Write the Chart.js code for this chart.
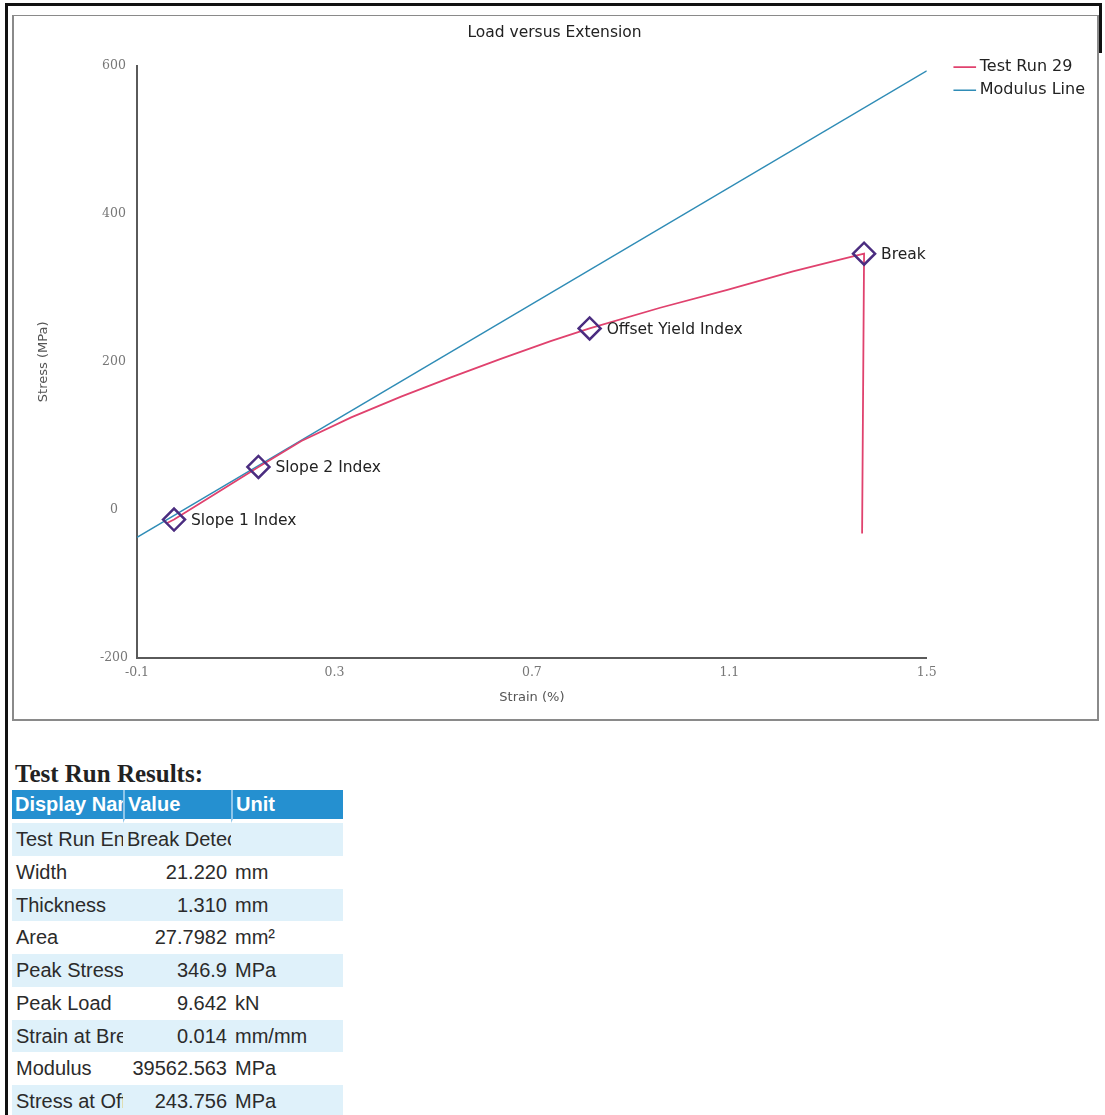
<!DOCTYPE html>
<html>
<head>
<meta charset="utf-8">
<script src="https://cdn.jsdelivr.net/npm/chart.js@4.4.1/dist/chart.umd.min.js"></script>
<style>
  html, body { margin: 0; padding: 0; background: #fff; }
  body { width: 1105px; height: 1115px; position: relative; overflow: hidden; }
  #frameLeft { position: absolute; left: 5px; top: 3px; width: 3px; height: 1112px; background: #111; }
  #frameTop { position: absolute; left: 5px; top: 3px; width: 1097px; height: 3px; background: #111; }
  #frameRight { position: absolute; left: 1099px; top: 3px; width: 3px; height: 50px; background: #111; }
  #chartBox { position: absolute; left: 12px; top: 15px; width: 1083px; height: 703px; border: 2px solid #8a8a8a; border-top-width: 1px; }
  #heading { position: absolute; left: 15px; top: 760px; font: bold 25px "Liberation Serif", serif; color: #222; }
  #results { position: absolute; left: 12px; top: 790px; border-collapse: separate; border-spacing: 0; table-layout: fixed; width: 331px;
             font: 20px "Liberation Sans", Arial, sans-serif; color: #2b2b2b; }
  #results td, #results th { white-space: nowrap; overflow: hidden; padding: 0; height: 32.75px; line-height: 32.75px; box-sizing: border-box; }
  #results th { background: #2590d0; color: #fff; font-weight: bold; text-align: left; padding-left: 3px;
                height: 33px; line-height: 29px; border-bottom: 4px solid #fff; }
  #results th + th { border-left: 2px solid #8ec6ea; }
  #results tr.alt td { background: #dff1fa; }
  #results td.name { padding-left: 4px; }
  #results td.val { text-align: right; padding-right: 4px; }
  #results td.txt { text-align: left; padding-left: 4px; }
  #results td.unit { padding-left: 4px; }
</style>
</head>
<body>
<div id="frameLeft"></div>
<div id="frameTop"></div>
<div id="frameRight"></div>
<div id="chartBox"><canvas id="myChart" width="1083" height="703"></canvas></div>
<div id="heading">Test Run Results:</div>
<table id="results"></table>

<script>
'use strict';

// test run curve (strain %, stress MPa)
const runStrain = [-0.04, -0.025, 0.05, 0.146, 0.233, 0.334, 0.435, 0.536, 0.637, 0.738, 0.817, 0.96, 1.096, 1.229, 1.33, 1.373, 1.369];
const runStress = [-18, -13, 18, 58, 93, 125, 153, 179, 204, 228, 245, 273, 297, 322, 339, 346, -32];

// modulus line
const modStrain = [-0.1, 1.5];
const modStress = [-37, 593];

// index markers
const markerNames = ['Slope 1 Index', 'Slope 2 Index', 'Offset Yield Index', 'Break'];
const markerStrain = [-0.025, 0.146, 0.817, 1.373];
const markerStress = [-13, 58, 245, 346];

const xTicks = [-0.1, 0.3, 0.7, 1.1, 1.5];
const yTicks = [-200, 0, 200, 400, 600];

// results table
const resultNames = ['Test Run End', 'Width', 'Thickness', 'Area', 'Peak Stress', 'Peak Load', 'Strain at Break', 'Modulus', 'Stress at Offset Yield'];
const resultValues = ['Break Detected', '21.220', '1.310', '27.7982', '346.9', '9.642', '0.014', '39562.563', '243.756'];
const resultUnits = ['', 'mm', 'mm', 'mm²', 'MPa', 'kN', 'mm/mm', 'MPa', 'MPa'];

function toPoints(xs, ys){
    let pts = [];
    for(var i = 0; i < xs.length; i++){
        pts.push({x: xs[i], y: ys[i]});
    }
    return pts;
}

function buildTable(){
    let html = '<colgroup><col style="width:111px"><col style="width:108px"><col style="width:112px"></colgroup>';
    html += '<tr><th>Display Name</th><th>Value</th><th>Unit</th></tr>';
    for(var i = 0; i < resultNames.length; i++){
        let cls = (i % 2 == 0) ? ' class="alt"' : '';
        let isText = isNaN(parseFloat(resultValues[i]));
        html += '<tr' + cls + '><td class="name">' + resultNames[i] + '</td>'
              + '<td class="' + (isText ? 'txt' : 'val') + '">' + resultValues[i] + '</td>'
              + '<td class="unit">' + resultUnits[i] + '</td></tr>';
    }
    document.getElementById('results').innerHTML = html;
}

// writes the index names next to the diamonds
const markerLabels = {
    id: 'markerLabels',
    afterDatasetsDraw(chart){
        const meta = chart.getDatasetMeta(0);
        const ctx = chart.ctx;
        ctx.save();
        ctx.font = '15.5px "DejaVu Sans", sans-serif';
        ctx.fillStyle = '#222';
        ctx.textBaseline = 'middle';
        ctx.textAlign = 'left';
        meta.data.forEach((pt, i) => {
            ctx.fillText(markerNames[i], pt.x + 17, pt.y + 1);
        });
        ctx.restore();
    }
};

const tickFont = { family: '"DejaVu Serif", serif', size: 12.5 };
const axisColor = '#5a5a5a';
const sans = '"DejaVu Sans", sans-serif';

const config = {
    type: 'scatter',
    data: {
        datasets: [{
            label: 'Index',
            data: toPoints(markerStrain, markerStress),
            showLine: false,
            pointStyle: 'rectRot',
            pointRadius: 11,
            pointBorderWidth: 2.5,
            pointBorderColor: '#4b2d80',
            pointBackgroundColor: 'rgba(0,0,0,0)',
            order: 0
        }, {
            label: 'Test Run 29',
            data: toPoints(runStrain, runStress),
            showLine: true,
            borderColor: '#e0426e',
            backgroundColor: '#e0426e',
            borderWidth: 1.8,
            pointRadius: 0,
            tension: 0,
            order: 1
        }, {
            label: 'Modulus Line',
            data: toPoints(modStrain, modStress),
            showLine: true,
            borderColor: '#2f8cb6',
            backgroundColor: '#2f8cb6',
            borderWidth: 1.5,
            pointRadius: 0,
            order: 2
        }]
    },
    options: {
        responsive: false,
        animation: false,
        layout: { padding: { left: 0, right: 2, top: 0, bottom: 0 } },
        plugins: {
            title: {
                display: true,
                text: 'Load versus Extension',
                color: '#222',
                font: { family: sans, size: 15.5, weight: 'normal' },
                padding: { top: 8, bottom: 23 }
            },
            legend: {
                position: 'right',
                align: 'start',
                title: { display: true, text: '', font: { size: 16 }, padding: { top: 10, bottom: 7 } },
                labels: {
                    color: '#222',
                    font: { family: sans, size: 16 },
                    usePointStyle: true,
                    pointStyle: 'line',
                    boxWidth: 14,
                    padding: 7,
                    filter: (item) => item.text != 'Index'
                }
            },
            tooltip: { enabled: false }
        },
        scales: {
            x: {
                type: 'linear',
                min: -0.1,
                max: 1.5,
                afterBuildTicks: (axis) => { axis.ticks = xTicks.map(v => ({value: v})); },
                afterFit: (axis) => { axis.height = 61; },
                grid: { display: false, drawTicks: false },
                border: { display: true, color: axisColor, width: 2 },
                ticks: { color: '#777', font: tickFont, padding: 7, maxRotation: 0 },
                title: { display: true, text: 'Strain (%)', color: '#555',
                         font: { family: sans, size: 13 }, padding: { top: 0, bottom: 14 } }
            },
            y: {
                type: 'linear',
                min: -200,
                max: 600,
                afterBuildTicks: (axis) => { axis.ticks = yTicks.map(v => ({value: v})); },
                afterFit: (axis) => { axis.width = 123; },
                grid: { display: false, drawTicks: false },
                border: { display: true, color: axisColor, width: 2 },
                ticks: { color: '#777', font: tickFont, padding: 9, crossAlign: 'center' },
                title: { display: true, text: 'Stress (MPa)', color: '#555',
                         font: { family: sans, size: 13 }, padding: { top: 22, bottom: 0 } }
            },
            // empty axis that keeps a gap between the plot and the legend
            gap: {
                type: 'linear',
                position: 'right',
                display: true,
                afterFit: (axis) => { axis.width = 24; },
                grid: { display: false, drawTicks: false },
                border: { display: false },
                ticks: { display: false }
            }
        }
    },
    plugins: [markerLabels]
};

buildTable();
const myChart = new Chart(document.getElementById('myChart'), config);
</script>
</body>
</html>
